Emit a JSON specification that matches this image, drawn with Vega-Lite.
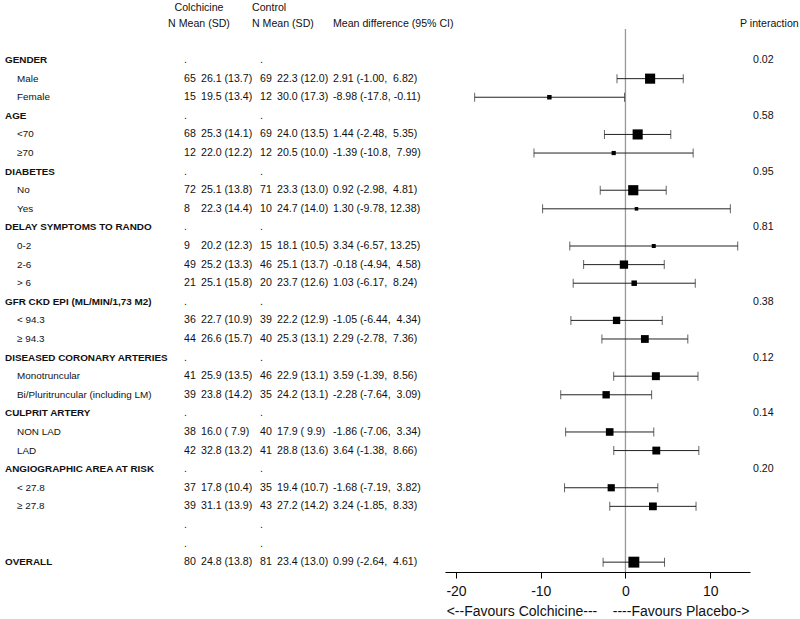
{
  "$schema": "https://vega.github.io/schema/vega-lite/v6.json",
  "padding": {"top": 3, "left": 0, "right": 0, "bottom": 0},
  "spacing": 0,
  "bounds": "flush",
  "config": {
    "font": "Liberation Sans",
    "view": {"stroke": null},
    "title": {"fontSize": 10.6, "fontWeight": "normal", "anchor": "start", "baseline": "bottom", "lineHeight": 16, "offset": -1, "color": "#111", "font": "Liberation Sans"},
    "text": {"fontSize": 10.6, "color": "#111", "align": "left", "baseline": "middle"}
  },
  "data": {"values": [
    {"row": 0, "type": "h", "label": "GENDER", "cN": ".", "kN": ".", "p": "0.02"},
    {"row": 1, "type": "s", "label": "Male", "cN": "65", "cM": "26.1 (13.7)", "kN": "69", "kM": "22.3 (12.0)", "md": "2.91 (-1.00,\u00a0 6.82)", "est": 2.91, "lo": -1.00, "hi": 6.82, "w": 16.35},
    {"row": 2, "type": "s", "label": "Female", "cN": "15", "cM": "19.5 (13.4)", "kN": "12", "kM": "30.0 (17.3)", "md": "-8.98 (-17.8, -0.11)", "est": -8.98, "lo": -17.8, "hi": -0.11, "w": 3.20},
    {"row": 3, "type": "h", "label": "AGE", "cN": ".", "kN": ".", "p": "0.58"},
    {"row": 4, "type": "s", "label": "<70", "cN": "68", "cM": "25.3 (14.1)", "kN": "69", "kM": "24.0 (13.5)", "md": "1.44 (-2.48,\u00a0 5.35)", "est": 1.44, "lo": -2.48, "hi": 5.35, "w": 16.31},
    {"row": 5, "type": "s", "label": "≥70", "cN": "12", "cM": "22.0 (12.2)", "kN": "12", "kM": "20.5 (10.0)", "md": "-1.39 (-10.8,\u00a0 7.99)", "est": -1.39, "lo": -10.8, "hi": 7.99, "w": 2.83},
    {"row": 6, "type": "h", "label": "DIABETES", "cN": ".", "kN": ".", "p": "0.95"},
    {"row": 7, "type": "s", "label": "No", "cN": "72", "cM": "25.1 (13.8)", "kN": "71", "kM": "23.3 (13.0)", "md": "0.92 (-2.98,\u00a0 4.81)", "est": 0.92, "lo": -2.98, "hi": 4.81, "w": 16.48},
    {"row": 8, "type": "s", "label": "Yes", "cN": "8", "cM": "22.3 (14.4)", "kN": "10", "kM": "24.7 (14.0)", "md": "1.30 (-9.78, 12.38)", "est": 1.30, "lo": -9.78, "hi": 12.38, "w": 2.04},
    {"row": 9, "type": "h", "label": "DELAY SYMPTOMS TO RANDO", "cN": ".", "kN": ".", "p": "0.81"},
    {"row": 10, "type": "s", "label": "0-2", "cN": "9", "cM": "20.2 (12.3)", "kN": "15", "kM": "18.1 (10.5)", "md": "3.34 (-6.57, 13.25)", "est": 3.34, "lo": -6.57, "hi": 13.25, "w": 2.55},
    {"row": 11, "type": "s", "label": "2-6", "cN": "49", "cM": "25.2 (13.3)", "kN": "46", "kM": "25.1 (13.7)", "md": "-0.18 (-4.94,\u00a0 4.58)", "est": -0.18, "lo": -4.94, "hi": 4.58, "w": 11.03},
    {"row": 12, "type": "s", "label": "> 6", "cN": "21", "cM": "25.1 (15.8)", "kN": "20", "kM": "23.7 (12.6)", "md": "1.03 (-6.17,\u00a0 8.24)", "est": 1.03, "lo": -6.17, "hi": 8.24, "w": 4.82},
    {"row": 13, "type": "h", "label": "GFR CKD EPI (ML/MIN/1,73 M2)", "cN": ".", "kN": ".", "p": "0.38"},
    {"row": 14, "type": "s", "label": "< 94.3", "cN": "36", "cM": "22.7 (10.9)", "kN": "39", "kM": "22.2 (12.9)", "md": "-1.05 (-6.44,\u00a0 4.34)", "est": -1.05, "lo": -6.44, "hi": 4.34, "w": 8.61},
    {"row": 15, "type": "s", "label": "≥ 94.3", "cN": "44", "cM": "26.6 (15.7)", "kN": "40", "kM": "25.3 (13.1)", "md": "2.29 (-2.78,\u00a0 7.36)", "est": 2.29, "lo": -2.78, "hi": 7.36, "w": 9.73},
    {"row": 16, "type": "h", "label": "DISEASED CORONARY ARTERIES", "cN": ".", "kN": ".", "p": "0.12"},
    {"row": 17, "type": "s", "label": "Monotruncular", "cN": "41", "cM": "25.9 (13.5)", "kN": "46", "kM": "22.9 (13.1)", "md": "3.59 (-1.39,\u00a0 8.56)", "est": 3.59, "lo": -1.39, "hi": 8.56, "w": 10.10},
    {"row": 18, "type": "s", "label": "Bi/Pluritruncular (including LM)", "cN": "39", "cM": "23.8 (14.2)", "kN": "35", "kM": "24.2 (13.1)", "md": "-2.28 (-7.64,\u00a0 3.09)", "est": -2.28, "lo": -7.64, "hi": 3.09, "w": 8.69},
    {"row": 19, "type": "h", "label": "CULPRIT ARTERY", "cN": ".", "kN": ".", "p": "0.14"},
    {"row": 20, "type": "s", "label": "NON LAD", "cN": "38", "cM": "16.0 (\u00a07.9)", "kN": "40", "kM": "17.9 (\u00a09.9)", "md": "-1.86 (-7.06,\u00a0 3.34)", "est": -1.86, "lo": -7.06, "hi": 3.34, "w": 9.25},
    {"row": 21, "type": "s", "label": "LAD", "cN": "42", "cM": "32.8 (13.2)", "kN": "41", "kM": "28.8 (13.6)", "md": "3.64 (-1.38,\u00a0 8.66)", "est": 3.64, "lo": -1.38, "hi": 8.66, "w": 9.92},
    {"row": 22, "type": "h", "label": "ANGIOGRAPHIC AREA AT RISK", "cN": ".", "kN": ".", "p": "0.20"},
    {"row": 23, "type": "s", "label": "< 27.8", "cN": "37", "cM": "17.8 (10.4)", "kN": "35", "kM": "19.4 (10.7)", "md": "-1.68 (-7.19,\u00a0 3.82)", "est": -1.68, "lo": -7.19, "hi": 3.82, "w": 8.25},
    {"row": 24, "type": "s", "label": "≥ 27.8", "cN": "39", "cM": "31.1 (13.9)", "kN": "43", "kM": "27.2 (14.2)", "md": "3.24 (-1.85,\u00a0 8.33)", "est": 3.24, "lo": -1.85, "hi": 8.33, "w": 9.65},
    {"row": 25, "type": "b", "label": "", "cN": ".", "kN": "."},
    {"row": 26, "type": "b", "label": "", "cN": ".", "kN": "."},
    {"row": 27, "type": "o", "label": "OVERALL", "cN": "80", "cM": "24.8 (13.8)", "kN": "81", "kM": "23.4 (13.0)", "md": "0.99 (-2.64,\u00a0 4.61)", "est": 0.99, "lo": -2.64, "hi": 4.61, "w": 19.03}
  ]},
  "hconcat": [
    {
      "width": 168, "height": 543,
      "layer": [
        {"transform": [{"filter": "datum.type == 'h' || datum.type == 'o'"}],
         "mark": {"type": "text", "fontWeight": "bold", "fontSize": 9.9},
         "encoding": {"x": {"value": 5}, "y": {"field": "row", "type": "quantitative", "scale": {"domain": [-1.67, 27.53], "reverse": true, "nice": false, "zero": false}, "axis": null}, "text": {"field": "label"}}},
        {"transform": [{"filter": "datum.type == 's'"}],
         "mark": {"type": "text", "fontSize": 9.9},
         "encoding": {"x": {"value": 17}, "y": {"field": "row", "type": "quantitative", "scale": {"domain": [-1.67, 27.53], "reverse": true, "nice": false, "zero": false}, "axis": null}, "text": {"field": "label"}}}
      ]
    },
    {
      "width": 84, "height": 543,
      "title": {"text": ["Colchicine", "N Mean (SD)"], "align": "center", "dx": 31},
      "layer": [
        {"transform": [{"filter": "datum.cN != null"}],
         "mark": {"type": "text"},
         "encoding": {"x": {"value": 16}, "y": {"field": "row", "type": "quantitative", "scale": {"domain": [-1.67, 27.53], "reverse": true, "nice": false, "zero": false}, "axis": null}, "text": {"field": "cN"}}},
        {"transform": [{"filter": "datum.cM != null"}],
         "mark": {"type": "text"},
         "encoding": {"x": {"value": 33}, "y": {"field": "row", "type": "quantitative", "scale": {"domain": [-1.67, 27.53], "reverse": true, "nice": false, "zero": false}, "axis": null}, "text": {"field": "cM"}}}
      ]
    },
    {
      "width": 81, "height": 543,
      "title": {"text": ["Control", "N Mean (SD)"]},
      "layer": [
        {"transform": [{"filter": "datum.kN != null"}],
         "mark": {"type": "text"},
         "encoding": {"x": {"value": 8}, "y": {"field": "row", "type": "quantitative", "scale": {"domain": [-1.67, 27.53], "reverse": true, "nice": false, "zero": false}, "axis": null}, "text": {"field": "kN"}}},
        {"transform": [{"filter": "datum.kM != null"}],
         "mark": {"type": "text"},
         "encoding": {"x": {"value": 25}, "y": {"field": "row", "type": "quantitative", "scale": {"domain": [-1.67, 27.53], "reverse": true, "nice": false, "zero": false}, "axis": null}, "text": {"field": "kM"}}}
      ]
    },
    {
      "width": 112, "height": 543,
      "title": {"text": ["\u00a0", "Mean difference (95% CI)"]},
      "transform": [{"filter": "datum.md != null"}],
      "mark": {"type": "text"},
      "encoding": {"x": {"value": 0}, "y": {"field": "row", "type": "quantitative", "scale": {"domain": [-1.67, 27.53], "reverse": true, "nice": false, "zero": false}, "axis": null}, "text": {"field": "md"}}
    },
    {
      "width": 305, "height": 543,
      "layer": [
        {"transform": [{"filter": "datum.row == 0"}],
         "mark": {"type": "rule", "color": "#9a9a9a", "strokeWidth": 1.3},
         "encoding": {"x": {"datum": 0, "type": "quantitative", "title": "<--Favours Colchicine---\u00a0\u00a0\u00a0\u00a0----Favours Placebo->", "scale": {"domain": [-21.3, 14.7], "nice": false, "zero": false},
            "axis": {"values": [-20, -10, 0, 10], "labelExpr": "replace(datum.label, '\u2212', '-')", "grid": false, "domainColor": "#000", "tickColor": "#000", "tickSize": 6, "labelFontSize": 14, "labelColor": "#111", "labelPadding": 6, "titleFontSize": 14, "titleFontWeight": "normal", "titleColor": "#111", "titlePadding": 6}}}},
        {"transform": [{"filter": "datum.est != null"}],
         "mark": {"type": "errorbar", "color": "#222", "thickness": 1, "ticks": {"size": 9, "thickness": 1, "color": "#222"}},
         "encoding": {"x": {"field": "lo", "type": "quantitative", "title": "<--Favours Colchicine---\u00a0\u00a0\u00a0\u00a0----Favours Placebo->"}, "x2": {"field": "hi"}, "y": {"field": "row", "type": "quantitative", "scale": {"domain": [-1.67, 27.53], "reverse": true, "nice": false, "zero": false}, "axis": null}}},
        {"transform": [{"filter": "datum.est != null"}],
         "mark": {"type": "point", "shape": "square", "filled": true, "color": "#000", "opacity": 1},
         "encoding": {"x": {"field": "est", "type": "quantitative", "title": "<--Favours Colchicine---\u00a0\u00a0\u00a0\u00a0----Favours Placebo->"}, "y": {"field": "row", "type": "quantitative", "scale": {"domain": [-1.67, 27.53], "reverse": true, "nice": false, "zero": false}, "axis": null},
            "size": {"field": "w", "type": "quantitative", "scale": {"domain": [0, 20], "range": [0, 125]}, "legend": null}}}
      ]
    },
    {
      "width": 50, "height": 543,
      "title": {"text": ["\u00a0", "P interaction"], "dx": -10},
      "transform": [{"filter": "datum.p != null"}],
      "mark": {"type": "text"},
      "encoding": {"x": {"value": 3}, "y": {"field": "row", "type": "quantitative", "scale": {"domain": [-1.67, 27.53], "reverse": true, "nice": false, "zero": false}, "axis": null}, "text": {"field": "p"}}
    }
  ]
}
